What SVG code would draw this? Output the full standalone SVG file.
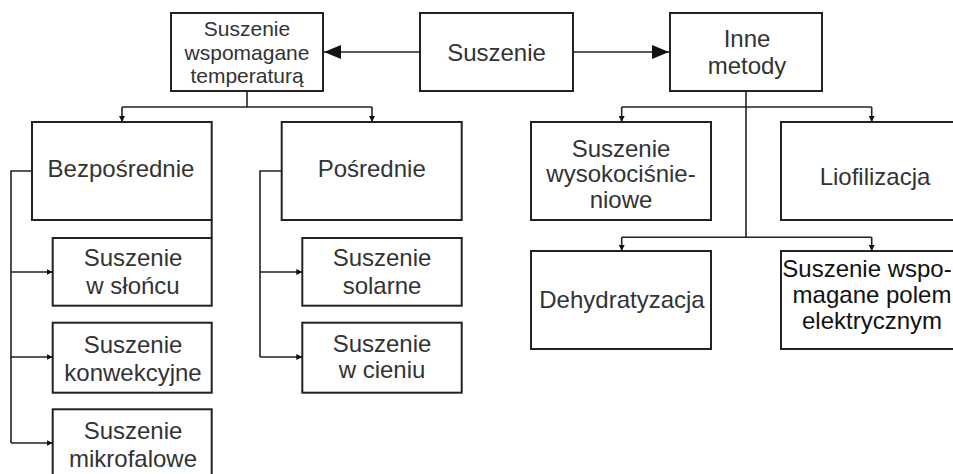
<svg xmlns="http://www.w3.org/2000/svg" width="953" height="474" viewBox="0 0 953 474">
<style>
.box{fill:#fff;stroke:#222;stroke-width:2}
.t{font-family:"Liberation Sans",Arial,sans-serif;font-size:24px;fill:#333;text-anchor:middle}
.s{font-size:21px}
.k{fill:#111}
.c{fill:none;stroke:#222;stroke-width:1.6}
</style>
<defs>
<marker id="big" markerUnits="userSpaceOnUse" markerWidth="17" markerHeight="14" refX="17" refY="7" orient="auto"><path d="M0,0 L17,7 L0,14 z" fill="#111"/></marker>
<marker id="sm" markerUnits="userSpaceOnUse" markerWidth="6" markerHeight="6" refX="6" refY="3" orient="auto"><path d="M0,0 L6,3 L0,6 z" fill="#111"/></marker>
</defs>
<rect width="953" height="474" fill="#fff"/>
<g id="connectors">
<path class="c" d="M420,52 L324,52" marker-end="url(#big)"/>
<path class="c" d="M573,52 L669,52" marker-end="url(#big)"/>
<path class="c" d="M247,91 L247,107"/>
<path class="c" d="M122,107 L372,107"/>
<path class="c" d="M122,107 L122,122" marker-end="url(#sm)"/>
<path class="c" d="M372,107 L372,122" marker-end="url(#sm)"/>
<path class="c" d="M32,171 L11,171 L11,443"/>
<path class="c" d="M11,272 L52.7,272" marker-end="url(#sm)"/>
<path class="c" d="M11,357 L52.7,357" marker-end="url(#sm)"/>
<path class="c" d="M11,443 L52.7,443" marker-end="url(#sm)"/>
<path class="c" d="M211.7,220 L211.7,238" style="stroke-width:2"/>
<path class="c" d="M281.7,171 L260,171 L260,357"/>
<path class="c" d="M260,272 L302.3,272" marker-end="url(#sm)"/>
<path class="c" d="M260,357 L302.3,357" marker-end="url(#sm)"/>
<path class="c" d="M746,91 L746,237.3"/>
<path class="c" d="M621.7,107 L871.7,107"/>
<path class="c" d="M621.7,107 L621.7,122" marker-end="url(#sm)"/>
<path class="c" d="M871.7,107 L871.7,122" marker-end="url(#sm)"/>
<path class="c" d="M621.7,237.3 L871.7,237.3"/>
<path class="c" d="M621.7,237.3 L621.7,251" marker-end="url(#sm)"/>
<path class="c" d="M871.7,237.3 L871.7,251" marker-end="url(#sm)"/>
</g>
<g id="n-temp"><rect class="box" x="171" y="13" width="152" height="78"/>
<text class="t s" x="247" y="36">Suszenie</text><text class="t s" x="247" y="60">wspomagane</text><text class="t s" x="247" y="83">temperaturą</text></g>
<g id="n-suszenie"><rect class="box" x="420" y="13" width="153" height="78"/>
<text class="t" x="496.5" y="60.5">Suszenie</text></g>
<g id="n-inne"><rect class="box" x="670" y="13" width="152" height="78"/>
<text class="t" x="747" y="47">Inne</text><text class="t" x="747" y="74">metody</text></g>
<g id="n-bezp"><rect class="box" x="32" y="122" width="179.7" height="98"/>
<text class="t" x="121" y="177">Bezpośrednie</text></g>
<g id="n-posr"><rect class="box" x="281.7" y="122" width="180" height="98"/>
<text class="t" x="371.7" y="177">Pośrednie</text></g>
<g id="n-slonce"><rect class="box" x="52.7" y="238" width="159" height="67.7"/>
<text class="t" x="133" y="266">Suszenie</text><text class="t" x="133" y="294">w słońcu</text></g>
<g id="n-konw"><rect class="box" x="52.7" y="322.7" width="159" height="70"/>
<text class="t" x="133" y="353">Suszenie</text><text class="t" x="133" y="381">konwekcyjne</text></g>
<g id="n-mikro"><rect class="box" x="52.7" y="409.3" width="159" height="75"/>
<text class="t" x="133" y="439">Suszenie</text><text class="t" x="133" y="467">mikrofalowe</text></g>
<g id="n-solar"><rect class="box" x="302.3" y="238" width="159.4" height="67.7"/>
<text class="t" x="382" y="266">Suszenie</text><text class="t" x="382" y="294">solarne</text></g>
<g id="n-cien"><rect class="box" x="302.3" y="322.7" width="159.4" height="70"/>
<text class="t" x="382" y="352">Suszenie</text><text class="t" x="382" y="378">w cieniu</text></g>
<g id="n-wysoko"><rect class="box" x="531" y="122" width="180" height="98"/>
<text class="t" x="621" y="157">Suszenie</text><text class="t" x="621" y="182">wysokociśnie-</text><text class="t" x="621" y="208">niowe</text></g>
<g id="n-liof"><rect class="box" x="781" y="122" width="181" height="98"/>
<text class="t" x="875" y="185">Liofilizacja</text></g>
<g id="n-dehyd"><rect class="box" x="531" y="251" width="180" height="98"/>
<text class="t" x="622" y="308">Dehydratyzacja</text></g>
<g id="n-pole"><rect class="box" x="781" y="251" width="181" height="98"/>
<text class="t k" x="867" y="277">Suszenie wspo-</text><text class="t k" x="872" y="303">magane polem</text><text class="t k" x="872" y="329">elektrycznym</text></g>
</svg>
